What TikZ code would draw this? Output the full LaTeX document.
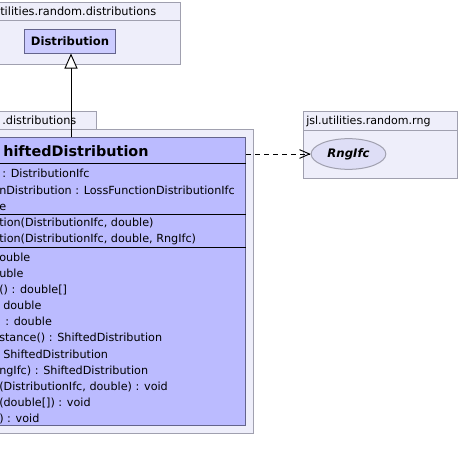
\documentclass[tikz,border=0pt]{standalone}
\usepackage{fontspec}
\setmainfont{DejaVu Sans}
\usetikzlibrary{arrows.meta,shapes.geometric}
\definecolor{pkgfill}{RGB}{238,238,250}
\definecolor{pkgline}{RGB}{160,160,175}
\definecolor{clsfill}{RGB}{187,187,255}
\definecolor{clsline}{RGB}{100,100,140}
\definecolor{distfill}{RGB}{204,204,255}
\definecolor{ellfill}{RGB}{222,222,246}
\tikzset{
  pkg/.style={draw=pkgline, fill=pkgfill, line width=0.75pt},
  pkglabel/.style={anchor=base west, inner sep=0pt, font=\fontsize{8.5}{10}\selectfont},
  clsbox/.style={draw=clsline, fill=clsfill, line width=0.75pt, inner sep=0pt},
  sepline/.style={draw=black, line width=0.75pt},
  member/.style={anchor=base west, inner sep=0pt, font=\fontsize{8.4}{10}\selectfont},
  header/.style={anchor=base west, inner sep=0pt, font=\fontsize{10.8}{12}\selectfont\bfseries},
  inherit/.style={draw=black, line width=0.7pt, -{Triangle[open, length=11.25pt, width=9.75pt, fill=white]}},
  depend/.style={draw=black, line width=0.7pt, dash pattern=on 3.75pt off 3pt, -{Straight Barb[length=7.5pt, width=6.5pt]}}
}
\begin{document}
\begin{tikzpicture}[x=0.75pt, y=-0.75pt]
\useasboundingbox (0,0) rectangle (461,471);
\clip (0,0) rectangle (461,471);

% top package: jsl.utilities.random.distributions
\draw[pkg] (-60,2) rectangle (180,20);
\draw[pkg] (-60,20) rectangle (180,64);
\node[pkglabel] (toplabel) at (0,15) {tilities.random.distributions};
\node[draw=clsline, fill=distfill, line width=0.75pt, minimum width=68.25pt, minimum height=18pt, inner sep=0pt,
      font=\fontsize{8.7}{10}\selectfont\bfseries] (dist) at (70,41) {Distribution};

% second package
\draw[pkg] (-60,111) rectangle (96,129);
\draw[pkg] (-60,129) rectangle (253,433);
\node[pkglabel] (midlabel) at (2,124) {.distributions};

% class box
\node[clsbox, minimum width=259.5pt, minimum height=216pt, anchor=north east] (cls) at (246,137) {};
\draw[sepline] (cls.west |- 0,163) -- (cls.east |- 0,163);
\draw[sepline] (cls.west |- 0,214) -- (cls.east |- 0,214);
\draw[sepline] (cls.west |- 0,247) -- (cls.east |- 0,247);
\node[header] (hdr) at (3,156) {hiftedDistribution};

\node[member] (a1) at (2,177) {: DistributionIfc};
\node[member] (a2) at (-1,194) {nDistribution : LossFunctionDistributionIfc};
\node[member] (a3) at (-1,210.5) {e};

\node[member] (c1) at (-1,226) {tion(DistributionIfc, double)};
\node[member] (c2) at (-1,242) {tion(DistributionIfc, double, RngIfc)};

\node[member] (m1) at (-1,261.4) {ouble};
\node[member] (m2) at (-1,277.5) {uble};
\node[member] (m3) at (-1,293.6) {() : double[]};
\node[member] (m4) at (3,309.7) {double};
\node[member] (m5) at (5,325.8) {: double};
\node[member] (m6) at (-1,341.9) {stance() : ShiftedDistribution};
\node[member] (m7) at (3,358) {ShiftedDistribution};
\node[member] (m8) at (-1,374.1) {ngIfc) : ShiftedDistribution};
\node[member] (m9) at (-1,390.2) {(DistributionIfc, double) : void};
\node[member] (m10) at (-1,406.3) {(double[]) : void};
\node[member] (m11) at (-1,422.4) {) : void};

% rng package
\draw[pkg] (303,111) rectangle (457,130);
\draw[pkg] (303,130) rectangle (457,178);
\node[pkglabel, font=\fontsize{8.3}{10}\selectfont] (rnglabel) at (306,124) {jsl.utilities.random.rng};
\node[draw=pkgline, fill=ellfill, line width=0.75pt, ellipse, minimum width=56pt, minimum height=23pt, inner sep=0pt,
      font=\fontsize{8.8}{10}\selectfont\bfseries\itshape] (rng) at (348.5,154) {RngIfc};

% connectors
\coordinate (inhtip) at (dist.south -| 71,0);
\draw[inherit] (cls.north -| inhtip) -- (inhtip);
\draw[depend] (cls.east |- rng.west) -- (rng.west);
\end{tikzpicture}
\end{document}
